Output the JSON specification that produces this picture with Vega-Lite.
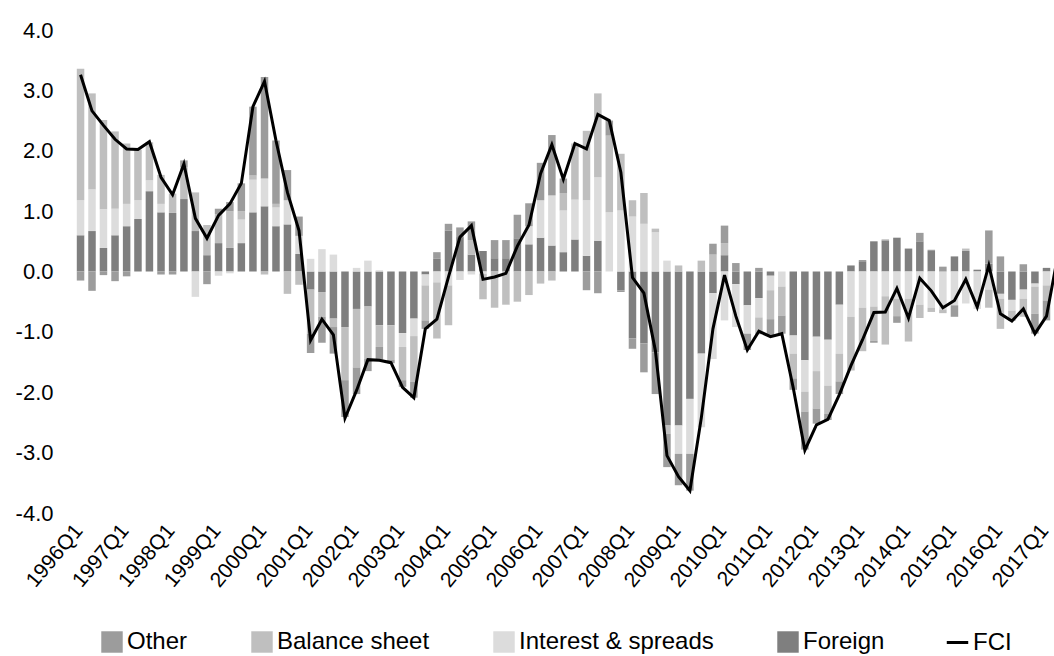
{
  "$schema": "https://vega.github.io/schema/vega-lite/v6.json",
  "width": 979,
  "height": 483,
  "autosize": "none",
  "padding": {"left": 75, "top": 30, "right": 0, "bottom": 143},
  "config": {
    "view": {"stroke": null},
    "font": "Liberation Sans",
    "axis": {"labelColor": "#000000", "labelFont": "Liberation Sans"}
  },
  "data": {
    "values": [
      {"quarter": "1996-01-01", "Other": -0.15, "Balance sheet": 2.18, "Interest & spreads": 0.58, "Foreign": 0.60, "FCI": 3.26},
      {"quarter": "1996-04-01", "Other": -0.32, "Balance sheet": 1.59, "Interest & spreads": 0.69, "Foreign": 0.67, "FCI": 2.66},
      {"quarter": "1996-07-01", "Other": -0.06, "Balance sheet": 1.48, "Interest & spreads": 0.64, "Foreign": 0.39, "FCI": 2.42},
      {"quarter": "1996-10-01", "Other": -0.16, "Balance sheet": 1.28, "Interest & spreads": 0.44, "Foreign": 0.60, "FCI": 2.19},
      {"quarter": "1997-01-01", "Other": -0.08, "Balance sheet": 1.00, "Interest & spreads": 0.37, "Foreign": 0.75, "FCI": 2.03},
      {"quarter": "1997-04-01", "Other": 0.00, "Balance sheet": 0.84, "Interest & spreads": 0.31, "Foreign": 0.87, "FCI": 2.02},
      {"quarter": "1997-07-01", "Other": 0.00, "Balance sheet": 0.63, "Interest & spreads": 0.18, "Foreign": 1.33, "FCI": 2.15},
      {"quarter": "1997-10-01", "Other": -0.05, "Balance sheet": 0.48, "Interest & spreads": 0.14, "Foreign": 0.98, "FCI": 1.56},
      {"quarter": "1998-01-01", "Other": -0.05, "Balance sheet": 0.32, "Interest & spreads": 0.00, "Foreign": 0.97, "FCI": 1.27},
      {"quarter": "1998-04-01", "Other": 0.11, "Balance sheet": 0.53, "Interest & spreads": 0.00, "Foreign": 1.20, "FCI": 1.78},
      {"quarter": "1998-07-01", "Other": 0.00, "Balance sheet": 0.64, "Interest & spreads": -0.42, "Foreign": 0.67, "FCI": 0.88},
      {"quarter": "1998-10-01", "Other": -0.21, "Balance sheet": 0.50, "Interest & spreads": 0.00, "Foreign": 0.27, "FCI": 0.55},
      {"quarter": "1999-01-01", "Other": 0.09, "Balance sheet": 0.48, "Interest & spreads": -0.07, "Foreign": 0.47, "FCI": 0.93},
      {"quarter": "1999-04-01", "Other": 0.15, "Balance sheet": 0.61, "Interest & spreads": -0.03, "Foreign": 0.39, "FCI": 1.12},
      {"quarter": "1999-07-01", "Other": 0.46, "Balance sheet": 0.14, "Interest & spreads": 0.39, "Foreign": 0.47, "FCI": 1.46},
      {"quarter": "1999-10-01", "Other": 1.14, "Balance sheet": 0.07, "Interest & spreads": 0.54, "Foreign": 0.98, "FCI": 2.73},
      {"quarter": "2000-01-01", "Other": 1.68, "Balance sheet": -0.05, "Interest & spreads": 0.46, "Foreign": 1.08, "FCI": 3.15},
      {"quarter": "2000-04-01", "Other": 1.05, "Balance sheet": 0.06, "Interest & spreads": 0.31, "Foreign": 0.75, "FCI": 2.17},
      {"quarter": "2000-07-01", "Other": 0.50, "Balance sheet": -0.37, "Interest & spreads": 0.40, "Foreign": 0.78, "FCI": 1.31},
      {"quarter": "2000-10-01", "Other": 0.32, "Balance sheet": -0.22, "Interest & spreads": 0.30, "Foreign": 0.29, "FCI": 0.68},
      {"quarter": "2001-01-01", "Other": -0.32, "Balance sheet": -0.73, "Interest & spreads": 0.21, "Foreign": -0.30, "FCI": -1.14},
      {"quarter": "2001-04-01", "Other": -0.43, "Balance sheet": -0.41, "Interest & spreads": 0.37, "Foreign": -0.34, "FCI": -0.79},
      {"quarter": "2001-07-01", "Other": -0.44, "Balance sheet": -0.14, "Interest & spreads": 0.28, "Foreign": -0.78, "FCI": -1.05},
      {"quarter": "2001-10-01", "Other": -0.61, "Balance sheet": -0.88, "Interest & spreads": 0.00, "Foreign": -0.92, "FCI": -2.43},
      {"quarter": "2002-01-01", "Other": -0.44, "Balance sheet": -0.97, "Interest & spreads": 0.06, "Foreign": -0.62, "FCI": -1.97},
      {"quarter": "2002-04-01", "Other": -0.20, "Balance sheet": -0.87, "Interest & spreads": 0.18, "Foreign": -0.58, "FCI": -1.46},
      {"quarter": "2002-07-01", "Other": -0.21, "Balance sheet": -0.36, "Interest & spreads": 0.02, "Foreign": -0.89, "FCI": -1.47},
      {"quarter": "2002-10-01", "Other": -0.06, "Balance sheet": -0.57, "Interest & spreads": 0.00, "Foreign": -0.89, "FCI": -1.51},
      {"quarter": "2003-01-01", "Other": -0.11, "Balance sheet": -0.55, "Interest & spreads": -0.23, "Foreign": -1.02, "FCI": -1.92},
      {"quarter": "2003-04-01", "Other": -0.26, "Balance sheet": -0.76, "Interest & spreads": -0.29, "Foreign": -0.78, "FCI": -2.09},
      {"quarter": "2003-07-01", "Other": -0.14, "Balance sheet": -0.58, "Interest & spreads": -0.18, "Foreign": -0.05, "FCI": -0.95},
      {"quarter": "2003-10-01", "Other": 0.11, "Balance sheet": -0.93, "Interest & spreads": -0.18, "Foreign": 0.21, "FCI": -0.79},
      {"quarter": "2004-01-01", "Other": 0.11, "Balance sheet": -0.66, "Interest & spreads": -0.23, "Foreign": 0.68, "FCI": -0.09},
      {"quarter": "2004-04-01", "Other": 0.16, "Balance sheet": 0.00, "Interest & spreads": -0.14, "Foreign": 0.57, "FCI": 0.57},
      {"quarter": "2004-07-01", "Other": 0.31, "Balance sheet": 0.24, "Interest & spreads": -0.05, "Foreign": 0.28, "FCI": 0.76},
      {"quarter": "2004-10-01", "Other": 0.00, "Balance sheet": -0.42, "Interest & spreads": -0.04, "Foreign": 0.34, "FCI": -0.13},
      {"quarter": "2005-01-01", "Other": 0.30, "Balance sheet": -0.60, "Interest & spreads": 0.00, "Foreign": 0.22, "FCI": -0.09},
      {"quarter": "2005-04-01", "Other": 0.30, "Balance sheet": -0.55, "Interest & spreads": 0.00, "Foreign": 0.22, "FCI": -0.03},
      {"quarter": "2005-07-01", "Other": 0.39, "Balance sheet": -0.50, "Interest & spreads": 0.00, "Foreign": 0.55, "FCI": 0.42},
      {"quarter": "2005-10-01", "Other": 0.38, "Balance sheet": -0.39, "Interest & spreads": 0.30, "Foreign": 0.45, "FCI": 0.77},
      {"quarter": "2006-01-01", "Other": 0.62, "Balance sheet": -0.20, "Interest & spreads": 0.62, "Foreign": 0.56, "FCI": 1.62},
      {"quarter": "2006-04-01", "Other": 1.00, "Balance sheet": -0.15, "Interest & spreads": 0.83, "Foreign": 0.43, "FCI": 2.10},
      {"quarter": "2006-07-01", "Other": 0.24, "Balance sheet": 0.29, "Interest & spreads": 0.69, "Foreign": 0.32, "FCI": 1.53},
      {"quarter": "2006-10-01", "Other": 0.00, "Balance sheet": 0.93, "Interest & spreads": 0.66, "Foreign": 0.53, "FCI": 2.12},
      {"quarter": "2007-01-01", "Other": -0.31, "Balance sheet": 1.15, "Interest & spreads": 0.92, "Foreign": 0.26, "FCI": 2.03},
      {"quarter": "2007-04-01", "Other": -0.36, "Balance sheet": 1.39, "Interest & spreads": 1.05, "Foreign": 0.51, "FCI": 2.60},
      {"quarter": "2007-07-01", "Other": 0.25, "Balance sheet": 1.27, "Interest & spreads": 0.98, "Foreign": 0.00, "FCI": 2.50},
      {"quarter": "2007-10-01", "Other": -0.03, "Balance sheet": 0.94, "Interest & spreads": 1.01, "Foreign": -0.31, "FCI": 1.64},
      {"quarter": "2008-01-01", "Other": -0.17, "Balance sheet": 0.27, "Interest & spreads": 0.91, "Foreign": -1.11, "FCI": -0.10},
      {"quarter": "2008-04-01", "Other": -0.48, "Balance sheet": 0.51, "Interest & spreads": 0.79, "Foreign": -1.19, "FCI": -0.36},
      {"quarter": "2008-07-01", "Other": -0.69, "Balance sheet": 0.06, "Interest & spreads": 0.65, "Foreign": -1.34, "FCI": -1.31},
      {"quarter": "2008-10-01", "Other": -0.55, "Balance sheet": -0.14, "Interest & spreads": 0.18, "Foreign": -2.55, "FCI": -3.05},
      {"quarter": "2009-01-01", "Other": -0.52, "Balance sheet": 0.10, "Interest & spreads": -0.47, "Foreign": -2.55, "FCI": -3.40},
      {"quarter": "2009-04-01", "Other": -0.61, "Balance sheet": 0.00, "Interest & spreads": -0.91, "Foreign": -2.11, "FCI": -3.63},
      {"quarter": "2009-07-01", "Other": 0.00, "Balance sheet": 0.18, "Interest & spreads": -1.22, "Foreign": -1.36, "FCI": -2.42},
      {"quarter": "2009-10-01", "Other": 0.18, "Balance sheet": 0.28, "Interest & spreads": -1.09, "Foreign": -0.36, "FCI": -0.95},
      {"quarter": "2010-01-01", "Other": 0.29, "Balance sheet": 0.20, "Interest & spreads": -0.81, "Foreign": 0.27, "FCI": -0.06},
      {"quarter": "2010-04-01", "Other": 0.14, "Balance sheet": 0.00, "Interest & spreads": -0.71, "Foreign": -0.21, "FCI": -0.74},
      {"quarter": "2010-07-01", "Other": -0.27, "Balance sheet": 0.00, "Interest & spreads": -0.47, "Foreign": -0.56, "FCI": -1.30},
      {"quarter": "2010-10-01", "Other": 0.06, "Balance sheet": -0.28, "Interest & spreads": -0.32, "Foreign": -0.44, "FCI": -0.99},
      {"quarter": "2011-01-01", "Other": -0.27, "Balance sheet": -0.48, "Interest & spreads": -0.24, "Foreign": -0.07, "FCI": -1.08},
      {"quarter": "2011-04-01", "Other": -0.30, "Balance sheet": -0.48, "Interest & spreads": -0.25, "Foreign": 0.00, "FCI": -1.03},
      {"quarter": "2011-07-01", "Other": -0.19, "Balance sheet": -0.41, "Interest & spreads": -0.30, "Foreign": -1.06, "FCI": -1.93},
      {"quarter": "2011-10-01", "Other": -0.63, "Balance sheet": -0.33, "Interest & spreads": -0.52, "Foreign": -1.47, "FCI": -2.96},
      {"quarter": "2012-01-01", "Other": -0.25, "Balance sheet": -0.62, "Interest & spreads": -0.57, "Foreign": -1.08, "FCI": -2.54},
      {"quarter": "2012-04-01", "Other": -0.10, "Balance sheet": -0.47, "Interest & spreads": -0.76, "Foreign": -1.13, "FCI": -2.45},
      {"quarter": "2012-07-01", "Other": -0.21, "Balance sheet": -0.46, "Interest & spreads": -0.81, "Foreign": -0.55, "FCI": -2.04},
      {"quarter": "2012-10-01", "Other": 0.00, "Balance sheet": -0.89, "Interest & spreads": -0.75, "Foreign": 0.10, "FCI": -1.56},
      {"quarter": "2013-01-01", "Other": 0.02, "Balance sheet": -0.72, "Interest & spreads": -0.60, "Foreign": 0.17, "FCI": -1.13},
      {"quarter": "2013-04-01", "Other": -0.03, "Balance sheet": -0.57, "Interest & spreads": -0.58, "Foreign": 0.50, "FCI": -0.68},
      {"quarter": "2013-07-01", "Other": 0.02, "Balance sheet": -0.80, "Interest & spreads": -0.41, "Foreign": 0.51, "FCI": -0.67},
      {"quarter": "2013-10-01", "Other": -0.11, "Balance sheet": -0.29, "Interest & spreads": -0.45, "Foreign": 0.56, "FCI": -0.28},
      {"quarter": "2014-01-01", "Other": 0.00, "Balance sheet": -0.71, "Interest & spreads": -0.45, "Foreign": 0.38, "FCI": -0.77},
      {"quarter": "2014-04-01", "Other": 0.14, "Balance sheet": -0.22, "Interest & spreads": -0.55, "Foreign": 0.50, "FCI": -0.11},
      {"quarter": "2014-07-01", "Other": 0.02, "Balance sheet": -0.07, "Interest & spreads": -0.60, "Foreign": 0.34, "FCI": -0.32},
      {"quarter": "2014-10-01", "Other": 0.08, "Balance sheet": -0.06, "Interest & spreads": -0.63, "Foreign": 0.00, "FCI": -0.60},
      {"quarter": "2015-01-01", "Other": -0.19, "Balance sheet": 0.00, "Interest & spreads": -0.56, "Foreign": 0.25, "FCI": -0.48},
      {"quarter": "2015-04-01", "Other": 0.00, "Balance sheet": 0.04, "Interest & spreads": -0.53, "Foreign": 0.34, "FCI": -0.13},
      {"quarter": "2015-07-01", "Other": 0.00, "Balance sheet": 0.00, "Interest & spreads": -0.62, "Foreign": 0.03, "FCI": -0.59},
      {"quarter": "2015-10-01", "Other": 0.55, "Balance sheet": -0.30, "Interest & spreads": -0.30, "Foreign": 0.13, "FCI": 0.10},
      {"quarter": "2016-01-01", "Other": 0.25, "Balance sheet": -0.50, "Interest & spreads": -0.08, "Foreign": -0.37, "FCI": -0.70},
      {"quarter": "2016-04-01", "Other": 0.00, "Balance sheet": -0.17, "Interest & spreads": -0.18, "Foreign": -0.47, "FCI": -0.82},
      {"quarter": "2016-07-01", "Other": 0.12, "Balance sheet": -0.30, "Interest & spreads": -0.15, "Foreign": -0.30, "FCI": -0.62},
      {"quarter": "2016-10-01", "Other": -0.33, "Balance sheet": -0.45, "Interest & spreads": -0.05, "Foreign": -0.20, "FCI": -1.03},
      {"quarter": "2017-01-01", "Other": -0.33, "Balance sheet": -0.25, "Interest & spreads": -0.23, "Foreign": 0.06, "FCI": -0.74},
      {"quarter": "2017-04-01", "Other": 0.15, "Balance sheet": 0.05, "Interest & spreads": -0.05, "Foreign": 0.12, "FCI": 0.27}
    ]
  },
  "encoding": {
    "x": {
      "field": "quarter",
      "type": "temporal",
      "scale": {
        "type": "utc",
        "nice": false,
        "padding": 0,
        "domain": [
          {"year": 1995, "month": 11, "date": 18, "utc": true},
          {"year": 2017, "month": 3, "date": 1, "hours": 12, "utc": true}
        ]
      },
      "axis": {
        "title": null,
        "domain": false,
        "ticks": false,
        "grid": false,
        "tickCount": {"interval": "year", "step": 1},
        "labelExpr": "utcyear(datum.value) + 'Q1'",
        "labelAngle": -50,
        "labelFontSize": 21,
        "labelPadding": 14,
        "labelOffset": -2,
        "labelOverlap": false,
        "labelBound": false,
        "labelFlush": false
      }
    }
  },
  "layer": [
    {
      "transform": [
        {"fold": ["Foreign", "Interest & spreads", "Balance sheet", "Other"], "as": ["component", "value"]},
        {"window": [{"op": "row_number", "as": "layer"}], "groupby": ["quarter"]}
      ],
      "mark": {"type": "bar", "size": 7.5, "clip": true},
      "encoding": {
        "y": {
          "field": "value",
          "type": "quantitative",
          "stack": "zero",
          "scale": {"domain": [-4, 4], "nice": false, "zero": false},
          "axis": {
            "title": null,
            "domain": false,
            "ticks": false,
            "grid": false,
            "values": [-4, -3, -2, -1, 0, 1, 2, 3, 4],
            "labelExpr": "replace(format(datum.value, '.1f'), '\u2212', '-')",
            "labelFontSize": 22,
            "labelPadding": 22
          }
        },
        "order": {"field": "layer", "type": "quantitative", "sort": "ascending"},
        "color": {
          "field": "component",
          "type": "nominal",
          "scale": {
            "domain": ["Foreign", "Interest & spreads", "Balance sheet", "Other"],
            "range": ["#7f7f7f", "#dcdcdc", "#bfbfbf", "#9c9c9c"]
          },
          "legend": {
            "title": null,
            "values": ["Other", "Balance sheet", "Interest & spreads", "Foreign"],
            "orient": "none",
            "legendX": 25,
            "legendY": 600,
            "direction": "horizontal",
            "columns": 4,
            "columnPadding": 62,
            "symbolType": "square",
            "symbolSize": 460,
            "symbolStrokeWidth": 0,
            "labelFont": "Liberation Sans",
            "labelFontSize": 24,
            "labelColor": "#000000",
            "labelOffset": 3,
            "labelLimit": 0
          }
        }
      }
    },
    {
      "mark": {"type": "rule", "color": "#000000", "strokeWidth": 3},
      "encoding": {"y": {"datum": 0, "type": "quantitative"}}
    },
    {
      "mark": {"type": "line", "strokeWidth": 3, "clip": true},
      "encoding": {
        "y": {"field": "FCI", "type": "quantitative"},
        "stroke": {
          "datum": "FCI",
          "scale": {"range": ["#000000"]},
          "legend": {
            "title": null,
            "orient": "none",
            "legendX": 870,
            "legendY": 600,
            "symbolType": "stroke",
            "symbolSize": 460,
            "symbolStrokeWidth": 3,
            "labelFont": "Liberation Sans",
            "labelFontSize": 24,
            "labelColor": "#000000",
            "labelOffset": 3
          }
        }
      }
    }
  ]
}
